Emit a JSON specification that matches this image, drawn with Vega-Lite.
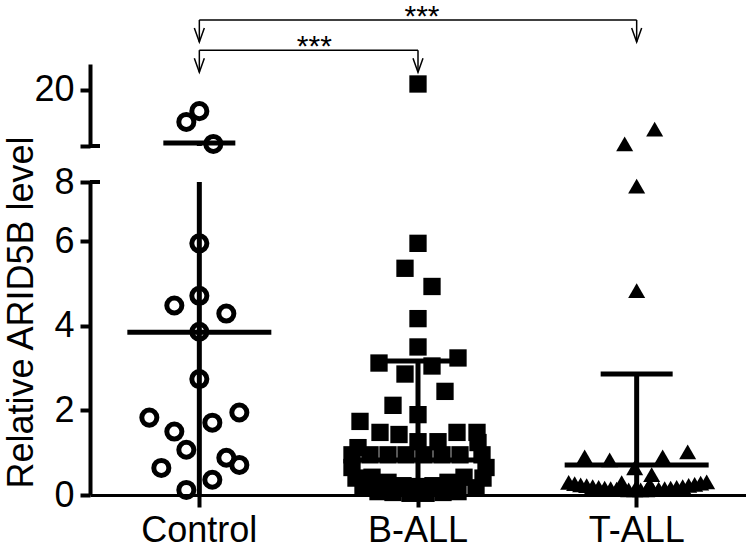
{
  "$schema": "https://vega.github.io/schema/vega-lite/v6.json",
  "background": "white",
  "padding": {"left": 2, "top": 1, "right": 0, "bottom": 0},
  "bounds": "flush",
  "spacing": 36,
  "config": {
    "view": {"stroke": null},
    "font": "Liberation Sans",
    "axis": {"grid": false, "domainColor": "black", "tickColor": "black", "labelColor": "black", "titleColor": "black", "labelFontSize": 36, "titleFontSize": 36, "titleFontWeight": "normal", "labelFont": "Liberation Sans", "titleFont": "Liberation Sans"}
  },
  "datasets": {
    "pts": [
      {"group": "Control", "v": 15.8, "jitter": 0},
      {"group": "Control", "v": 13.7, "jitter": -13},
      {"group": "Control", "v": 9.4, "jitter": 14},
      {"group": "Control", "v": 5.95, "jitter": 0},
      {"group": "Control", "v": 4.71, "jitter": 0},
      {"group": "Control", "v": 4.48, "jitter": -25},
      {"group": "Control", "v": 4.29, "jitter": 27},
      {"group": "Control", "v": 3.86, "jitter": 0},
      {"group": "Control", "v": 2.74, "jitter": 0},
      {"group": "Control", "v": 1.83, "jitter": -50},
      {"group": "Control", "v": 1.95, "jitter": 40},
      {"group": "Control", "v": 1.71, "jitter": 13},
      {"group": "Control", "v": 1.5, "jitter": -25},
      {"group": "Control", "v": 1.07, "jitter": -13},
      {"group": "Control", "v": 0.88, "jitter": 27},
      {"group": "Control", "v": 0.71, "jitter": 40},
      {"group": "Control", "v": 0.64, "jitter": -38},
      {"group": "Control", "v": 0.36, "jitter": 13},
      {"group": "Control", "v": 0.12, "jitter": -13},
      {"group": "B-ALL", "v": 21.1, "jitter": 0},
      {"group": "B-ALL", "v": 5.95, "jitter": 0},
      {"group": "B-ALL", "v": 5.36, "jitter": -13},
      {"group": "B-ALL", "v": 4.93, "jitter": 14},
      {"group": "B-ALL", "v": 4.17, "jitter": 0},
      {"group": "B-ALL", "v": 3.5, "jitter": 0},
      {"group": "B-ALL", "v": 3.12, "jitter": -39},
      {"group": "B-ALL", "v": 3.24, "jitter": 40},
      {"group": "B-ALL", "v": 2.86, "jitter": -13},
      {"group": "B-ALL", "v": 3.05, "jitter": 14},
      {"group": "B-ALL", "v": 2.45, "jitter": 27},
      {"group": "B-ALL", "v": 2.12, "jitter": -25},
      {"group": "B-ALL", "v": 1.9, "jitter": 0},
      {"group": "B-ALL", "v": 1.74, "jitter": -58},
      {"group": "B-ALL", "v": 1.48, "jitter": -38},
      {"group": "B-ALL", "v": 1.43, "jitter": -19},
      {"group": "B-ALL", "v": 1.26, "jitter": 0},
      {"group": "B-ALL", "v": 1.26, "jitter": 20},
      {"group": "B-ALL", "v": 1.48, "jitter": 39},
      {"group": "B-ALL", "v": 1.48, "jitter": 59},
      {"group": "B-ALL", "v": 1.12, "jitter": -60},
      {"group": "B-ALL", "v": 1.24, "jitter": 60},
      {"group": "B-ALL", "v": 0.95, "jitter": -66},
      {"group": "B-ALL", "v": 0.95, "jitter": -48},
      {"group": "B-ALL", "v": 0.95, "jitter": -30},
      {"group": "B-ALL", "v": 0.95, "jitter": -12},
      {"group": "B-ALL", "v": 0.95, "jitter": 6},
      {"group": "B-ALL", "v": 0.95, "jitter": 24},
      {"group": "B-ALL", "v": 0.95, "jitter": 42},
      {"group": "B-ALL", "v": 0.95, "jitter": 64},
      {"group": "B-ALL", "v": 0.65, "jitter": -66},
      {"group": "B-ALL", "v": 0.4, "jitter": -62},
      {"group": "B-ALL", "v": 0.17, "jitter": -55},
      {"group": "B-ALL", "v": 0.65, "jitter": 68},
      {"group": "B-ALL", "v": 0.4, "jitter": 65},
      {"group": "B-ALL", "v": 0.17, "jitter": 58},
      {"group": "B-ALL", "v": 0.42, "jitter": -46},
      {"group": "B-ALL", "v": 0.3, "jitter": -30},
      {"group": "B-ALL", "v": 0.22, "jitter": -15},
      {"group": "B-ALL", "v": 0.2, "jitter": 0},
      {"group": "B-ALL", "v": 0.22, "jitter": 15},
      {"group": "B-ALL", "v": 0.3, "jitter": 30},
      {"group": "B-ALL", "v": 0.42, "jitter": 46},
      {"group": "B-ALL", "v": 0.08, "jitter": -40},
      {"group": "B-ALL", "v": 0.06, "jitter": -25},
      {"group": "B-ALL", "v": 0.04, "jitter": -8},
      {"group": "B-ALL", "v": 0.04, "jitter": 8},
      {"group": "B-ALL", "v": 0.06, "jitter": 25},
      {"group": "B-ALL", "v": 0.08, "jitter": 40},
      {"group": "T-ALL", "v": 12.3, "jitter": 18},
      {"group": "T-ALL", "v": 9.4, "jitter": -12},
      {"group": "T-ALL", "v": 7.3, "jitter": 0},
      {"group": "T-ALL", "v": 4.83, "jitter": 0},
      {"group": "T-ALL", "v": 0.9, "jitter": -52},
      {"group": "T-ALL", "v": 0.83, "jitter": -27},
      {"group": "T-ALL", "v": 0.9, "jitter": 26},
      {"group": "T-ALL", "v": 1.02, "jitter": 51},
      {"group": "T-ALL", "v": 0.64, "jitter": -2},
      {"group": "T-ALL", "v": 0.48, "jitter": 15},
      {"group": "T-ALL", "v": 0.29, "jitter": -15},
      {"group": "T-ALL", "v": 0.24, "jitter": 13},
      {"group": "T-ALL", "v": 0.3, "jitter": -68},
      {"group": "T-ALL", "v": 0.27, "jitter": -62},
      {"group": "T-ALL", "v": 0.24, "jitter": -56},
      {"group": "T-ALL", "v": 0.22, "jitter": -50},
      {"group": "T-ALL", "v": 0.2, "jitter": -44},
      {"group": "T-ALL", "v": 0.18, "jitter": -38},
      {"group": "T-ALL", "v": 0.16, "jitter": -32},
      {"group": "T-ALL", "v": 0.15, "jitter": -26},
      {"group": "T-ALL", "v": 0.14, "jitter": -20},
      {"group": "T-ALL", "v": 0.13, "jitter": -14},
      {"group": "T-ALL", "v": 0.12, "jitter": -8},
      {"group": "T-ALL", "v": 0.12, "jitter": -2},
      {"group": "T-ALL", "v": 0.12, "jitter": 4},
      {"group": "T-ALL", "v": 0.12, "jitter": 10},
      {"group": "T-ALL", "v": 0.13, "jitter": 16},
      {"group": "T-ALL", "v": 0.14, "jitter": 22},
      {"group": "T-ALL", "v": 0.15, "jitter": 28},
      {"group": "T-ALL", "v": 0.16, "jitter": 34},
      {"group": "T-ALL", "v": 0.18, "jitter": 40},
      {"group": "T-ALL", "v": 0.2, "jitter": 46},
      {"group": "T-ALL", "v": 0.23, "jitter": 52},
      {"group": "T-ALL", "v": 0.25, "jitter": 58},
      {"group": "T-ALL", "v": 0.28, "jitter": 64},
      {"group": "T-ALL", "v": 0.31, "jitter": 70}
    ],
    "stats": [
      {"group": "Control", "mean": 3.85, "hi": 9.6, "lo": -1.9},
      {"group": "B-ALL", "mean": 0.83, "hi": 3.17, "lo": -1.5},
      {"group": "T-ALL", "mean": 0.71, "hi": 2.86, "lo": -1.44}
    ],
    "bars": [
      {"g1": "Control", "g2": "T-ALL", "y": 33.6},
      {"g1": "Control", "g2": "B-ALL", "y": 27.7}
    ],
    "stems": [
      {"group": "Control", "y": 33.6, "tip": 29.3},
      {"group": "T-ALL", "y": 33.6, "tip": 29.3},
      {"group": "Control", "y": 27.7, "tip": 23.4},
      {"group": "B-ALL", "y": 27.7, "tip": 23.4}
    ],
    "stars": [
      {"group": "B-ALL", "y": 33.6, "jitter": 4, "label": "***"},
      {"group": "Control", "y": 27.7, "jitter": 115, "label": "***"}
    ],
    "caps": [
      {"group": "Control", "panel": "upper", "y": 9, "jitter": -104.33},
      {"group": "Control", "panel": "lower", "y": 7.4, "jitter": -104.33}
    ]
  },
  "vconcat": [
    {
      "width": 656,
      "height": 82,
      "encoding": {
        "x": {"field": "group", "type": "nominal", "scale": {"domain": ["Control", "B-ALL", "T-ALL"], "paddingInner": 0, "paddingOuter": 0}, "axis": null}
      },
      "layer": [
        {
          "data": {"name": "pts"},
          "transform": [{"filter": "datum.group == 'Control' && datum.v >= 8.5"}],
          "mark": {"type": "point", "shape": "circle", "filled": false, "stroke": "black", "strokeWidth": 5, "size": 227, "opacity": 1},
          "encoding": {
            "xOffset": {"field": "jitter", "type": "quantitative", "scale": {"domain": [-109.33, 109.33]}},
            "y": {"field": "v", "type": "quantitative", "scale": {"domain": [9, 25], "nice": false, "zero": false},
              "axis": {"values": [9, 20], "labelExpr": "datum.value == 20 ? '20' : ''", "title": null, "domainWidth": 4, "tickWidth": 4, "tickSize": 10, "labelPadding": 6}}
          }
        },
        {
          "data": {"name": "pts"},
          "transform": [{"filter": "datum.group == 'B-ALL' && datum.v >= 8.5"}],
          "mark": {"type": "point", "shape": "square", "filled": true, "color": "black", "size": 300, "opacity": 1},
          "encoding": {
            "xOffset": {"field": "jitter", "type": "quantitative", "scale": {"domain": [-109.33, 109.33]}},
            "y": {"field": "v", "type": "quantitative", "scale": {"domain": [9, 25], "nice": false, "zero": false}}
          }
        },
        {
          "data": {"name": "pts"},
          "transform": [{"filter": "datum.group == 'T-ALL' && datum.v >= 8.5"}],
          "mark": {"type": "point", "shape": "triangle-up", "filled": true, "color": "black", "size": 290, "opacity": 1},
          "encoding": {
            "xOffset": {"field": "jitter", "type": "quantitative", "scale": {"domain": [-109.33, 109.33]}},
            "y": {"field": "v", "type": "quantitative", "scale": {"domain": [9, 25], "nice": false, "zero": false}}
          }
        },
        {
          "data": {"name": "stats"},
          "mark": {"type": "rule", "color": "black", "strokeWidth": 5, "clip": true},
          "encoding": {
            "y": {"field": "lo", "type": "quantitative", "scale": {"domain": [9, 25], "nice": false, "zero": false}},
            "y2": {"field": "hi"}
          }
        },
        {
          "data": {"name": "stats"},
          "mark": {"type": "tick", "color": "black", "opacity": 1, "size": 72, "thickness": 5, "orient": "horizontal", "clip": true},
          "encoding": {
            "y": {"field": "hi", "type": "quantitative", "scale": {"domain": [9, 25], "nice": false, "zero": false}}
          }
        },
        {
          "data": {"name": "caps"},
          "transform": [{"filter": "datum.panel == 'upper'"}],
          "mark": {"type": "tick", "color": "black", "opacity": 1, "size": 10, "thickness": 4, "orient": "horizontal"},
          "encoding": {
            "xOffset": {"field": "jitter", "type": "quantitative", "scale": {"domain": [-109.33, 109.33]}},
            "y": {"field": "y", "type": "quantitative", "scale": {"domain": [9, 25], "nice": false, "zero": false}}
          }
        },
        {
          "data": {"name": "bars"},
          "mark": {"type": "rule", "color": "black", "strokeWidth": 1.5},
          "encoding": {
            "x": {"field": "g1", "type": "nominal"},
            "x2": {"field": "g2"},
            "y": {"field": "y", "type": "quantitative", "scale": {"domain": [9, 25], "nice": false, "zero": false}}
          }
        },
        {
          "data": {"name": "stems"},
          "mark": {"type": "rule", "color": "black", "strokeWidth": 1.5},
          "encoding": {
            "y": {"field": "y", "type": "quantitative", "scale": {"domain": [9, 25], "nice": false, "zero": false}},
            "y2": {"field": "tip"}
          }
        },
        {
          "data": {"name": "stems"},
          "mark": {"type": "point", "shape": "M-1,-2.8L0,0L1,-2.8", "filled": false, "stroke": "black", "strokeWidth": 1.5, "size": 100, "opacity": 1},
          "encoding": {
            "y": {"field": "tip", "type": "quantitative", "scale": {"domain": [9, 25], "nice": false, "zero": false}}
          }
        },
        {
          "data": {"name": "stars"},
          "mark": {"type": "text", "fontSize": 30, "font": "Liberation Sans", "baseline": "alphabetic", "align": "center", "color": "black", "dy": 6},
          "encoding": {
            "xOffset": {"field": "jitter", "type": "quantitative", "scale": {"domain": [-109.33, 109.33]}},
            "y": {"field": "y", "type": "quantitative", "scale": {"domain": [9, 25], "nice": false, "zero": false}},
            "text": {"field": "label"}
          }
        }
      ]
    },
    {
      "width": 656,
      "height": 313,
      "encoding": {
        "x": {"field": "group", "type": "nominal", "scale": {"domain": ["Control", "B-ALL", "T-ALL"], "paddingInner": 0, "paddingOuter": 0},
          "axis": {"title": null, "labelAngle": 0, "domainWidth": 3, "tickWidth": 4, "tickSize": 12, "labelPadding": 6, "bandPosition": 0.5}}
      },
      "layer": [
        {
          "data": {"name": "pts"},
          "transform": [{"filter": "datum.group == 'Control' && datum.v < 8.5"}],
          "mark": {"type": "point", "shape": "circle", "filled": false, "stroke": "black", "strokeWidth": 5, "size": 227, "opacity": 1},
          "encoding": {
            "xOffset": {"field": "jitter", "type": "quantitative", "scale": {"domain": [-109.33, 109.33]}},
            "y": {"field": "v", "type": "quantitative", "scale": {"domain": [0, 7.4], "nice": false},
              "axis": {"values": [0, 2, 4, 6, 7.4], "labelExpr": "datum.value > 7 ? '8' : datum.label", "title": "Relative ARID5B level", "domainWidth": 4, "tickWidth": 4, "tickSize": 10, "labelPadding": 6, "titleX": -50, "titleY": 130, "titleAlign": "center"}}
          }
        },
        {
          "data": {"name": "pts"},
          "transform": [{"filter": "datum.group == 'B-ALL' && datum.v < 8.5"}],
          "mark": {"type": "point", "shape": "square", "filled": true, "color": "black", "size": 300, "opacity": 1},
          "encoding": {
            "xOffset": {"field": "jitter", "type": "quantitative", "scale": {"domain": [-109.33, 109.33]}},
            "y": {"field": "v", "type": "quantitative", "scale": {"domain": [0, 7.4], "nice": false}}
          }
        },
        {
          "data": {"name": "pts"},
          "transform": [{"filter": "datum.group == 'T-ALL' && datum.v < 8.5"}],
          "mark": {"type": "point", "shape": "triangle-up", "filled": true, "color": "black", "size": 290, "opacity": 1},
          "encoding": {
            "xOffset": {"field": "jitter", "type": "quantitative", "scale": {"domain": [-109.33, 109.33]}},
            "y": {"field": "v", "type": "quantitative", "scale": {"domain": [0, 7.4], "nice": false}}
          }
        },
        {
          "data": {"name": "stats"},
          "mark": {"type": "rule", "color": "black", "strokeWidth": 5, "clip": true},
          "encoding": {
            "y": {"field": "lo", "type": "quantitative", "scale": {"domain": [0, 7.4], "nice": false}},
            "y2": {"field": "hi"}
          }
        },
        {
          "data": {"name": "stats"},
          "mark": {"type": "tick", "color": "black", "opacity": 1, "size": 144, "thickness": 5, "orient": "horizontal", "clip": true},
          "encoding": {
            "y": {"field": "mean", "type": "quantitative", "scale": {"domain": [0, 7.4], "nice": false}}
          }
        },
        {
          "data": {"name": "stats"},
          "mark": {"type": "tick", "color": "black", "opacity": 1, "size": 72, "thickness": 5, "orient": "horizontal", "clip": true},
          "encoding": {
            "y": {"field": "hi", "type": "quantitative", "scale": {"domain": [0, 7.4], "nice": false}}
          }
        },
        {
          "data": {"name": "caps"},
          "transform": [{"filter": "datum.panel == 'lower'"}],
          "mark": {"type": "tick", "color": "black", "opacity": 1, "size": 10, "thickness": 4, "orient": "horizontal"},
          "encoding": {
            "xOffset": {"field": "jitter", "type": "quantitative", "scale": {"domain": [-109.33, 109.33]}},
            "y": {"field": "y", "type": "quantitative", "scale": {"domain": [0, 7.4], "nice": false}}
          }
        }
      ]
    }
  ]
}
